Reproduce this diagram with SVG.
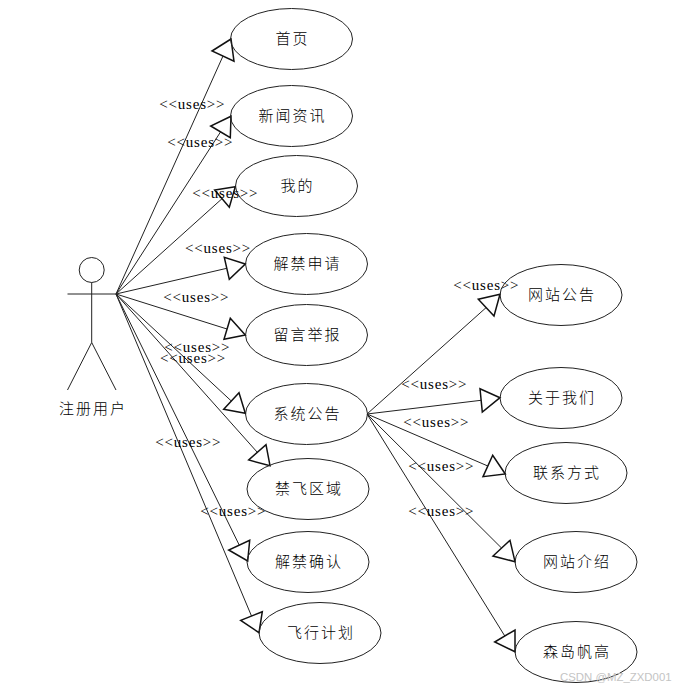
<svg xmlns="http://www.w3.org/2000/svg" width="684" height="691" viewBox="0 0 684 691">
<style>
.bg{fill:#fff}
ellipse{fill:none;stroke:#222;stroke-width:1}
.l{fill:none;stroke:#222;stroke-width:1}
.h{fill:none;stroke:#111;stroke-width:1.5}
.c{font-family:"Noto Sans CJK SC",sans-serif;font-size:15px;font-weight:300;letter-spacing:2px;text-anchor:middle;fill:#000}
.u{font-family:"Liberation Serif",serif;font-size:15px;letter-spacing:0.8px;fill:#000}
.w{font-family:"Liberation Sans",sans-serif;font-size:11.400px;fill:#c4c4c4}
</style>
<rect class="bg" width="684" height="691"/>
<g id="connectors">
<path class="l" d="M116 294L223 56M116 294L220.500 132M116 294L222 198.700M116 294L226.800 268.300M116 294L227 329M116 294L231.300 401M116 294L257.300 452.300M116 294L239.200 545M116 294L251.500 616"/>
<path class="l" d="M367 414L486 307.700M367 414L481 400.300M367 414L487.800 466M367 414L501.500 548M367 414L504.800 636"/>
<polygon class="h" points="231,39 212,51 234,61.300"/>
<polygon class="h" points="231,116.300 210.700,126 230.300,137.700"/>
<polygon class="h" points="235.300,186.700 214.700,190 229.300,207.300"/>
<polygon class="h" points="245.300,264 224.300,257.300 229.300,279.300"/>
<polygon class="h" points="245.300,335 230.300,318.300 224,339.300"/>
<polygon class="h" points="245.300,413.300 239,392.700 223.700,409.300"/>
<polygon class="h" points="270,465.700 266,444.700 248.700,460"/>
<polygon class="h" points="247.700,561 249.700,540.300 228.700,550"/>
<polygon class="h" points="259,632.700 262.300,611.700 240.700,620.300"/>
<polygon class="h" points="500,294.300 478.300,299.300 494,316"/>
<polygon class="h" points="500,397.700 480,388.700 482.300,412"/>
<polygon class="h" points="505.300,474 492.700,455.300 483,476.700"/>
<polygon class="h" points="515,561.700 510,540.300 493,556"/>
<polygon class="h" points="515,651.700 515,630 494.700,642"/>
</g>
<g id="uses-labels">
<text class="u" x="159.300" y="109">&lt;&lt;uses&gt;&gt;</text>
<text class="u" x="167.300" y="147">&lt;&lt;uses&gt;&gt;</text>
<text class="u" x="192.300" y="198">&lt;&lt;uses&gt;&gt;</text>
<text class="u" x="185" y="253">&lt;&lt;uses&gt;&gt;</text>
<text class="u" x="163.300" y="302">&lt;&lt;uses&gt;&gt;</text>
<text class="u" x="164.300" y="352">&lt;&lt;uses&gt;&gt;</text>
<text class="u" x="160" y="363">&lt;&lt;uses&gt;&gt;</text>
<text class="u" x="155.300" y="447">&lt;&lt;uses&gt;&gt;</text>
<text class="u" x="200.300" y="516">&lt;&lt;uses&gt;&gt;</text>
<text class="u" x="453.300" y="290">&lt;&lt;uses&gt;&gt;</text>
<text class="u" x="401.300" y="389">&lt;&lt;uses&gt;&gt;</text>
<text class="u" x="403.300" y="427">&lt;&lt;uses&gt;&gt;</text>
<text class="u" x="408.300" y="471">&lt;&lt;uses&gt;&gt;</text>
<text class="u" x="408.300" y="516">&lt;&lt;uses&gt;&gt;</text>
</g>
<g id="actor">
<circle class="l" cx="91.700" cy="270" r="12.500"/>
<path class="l" d="M91.700 282.500V342.500M67.500 294H116M91.700 342.500L67.500 390M91.700 342.500L116 390"/>
<text class="c" x="93" y="414">注册用户</text>
</g>
<g id="n1"><ellipse cx="291.500" cy="39" rx="61" ry="30.500"/><text class="c" x="292.500" y="44">首页</text></g>
<g id="n2"><ellipse cx="291.500" cy="116" rx="61" ry="30.500"/><text class="c" x="292.500" y="121">新闻资讯</text></g>
<g id="n3"><ellipse cx="296.500" cy="186" rx="61" ry="30.500"/><text class="c" x="297.500" y="191">我的</text></g>
<g id="n4"><ellipse cx="306.500" cy="264" rx="61" ry="30.500"/><text class="c" x="307.500" y="269">解禁申请</text></g>
<g id="n5"><ellipse cx="306.500" cy="335" rx="61" ry="30.500"/><text class="c" x="307.500" y="340">留言举报</text></g>
<g id="n6"><ellipse cx="306.500" cy="414" rx="61" ry="30.500"/><text class="c" x="307.500" y="419">系统公告</text></g>
<g id="n7"><ellipse cx="308" cy="489" rx="61" ry="30.500"/><text class="c" x="309" y="494">禁飞区域</text></g>
<g id="n8"><ellipse cx="308" cy="562" rx="61" ry="30.500"/><text class="c" x="309" y="567">解禁确认</text></g>
<g id="n9"><ellipse cx="320" cy="633" rx="61" ry="30.500"/><text class="c" x="321" y="638">飞行计划</text></g>
<g id="n10"><ellipse cx="561" cy="295" rx="61" ry="30.500"/><text class="c" x="562" y="300">网站公告</text></g>
<g id="n11"><ellipse cx="561" cy="398" rx="61" ry="30.500"/><text class="c" x="562" y="403">关于我们</text></g>
<g id="n12"><ellipse cx="566" cy="473" rx="61" ry="30.500"/><text class="c" x="567" y="478">联系方式</text></g>
<g id="n13"><ellipse cx="576" cy="562" rx="61" ry="30.500"/><text class="c" x="577" y="567">网站介绍</text></g>
<g id="n14"><ellipse cx="576" cy="652" rx="61" ry="30.500"/><text class="c" x="577" y="657">森岛帆高</text></g>
<text class="w" x="560" y="681">CSDN @MZ_ZXD001</text>
</svg>
